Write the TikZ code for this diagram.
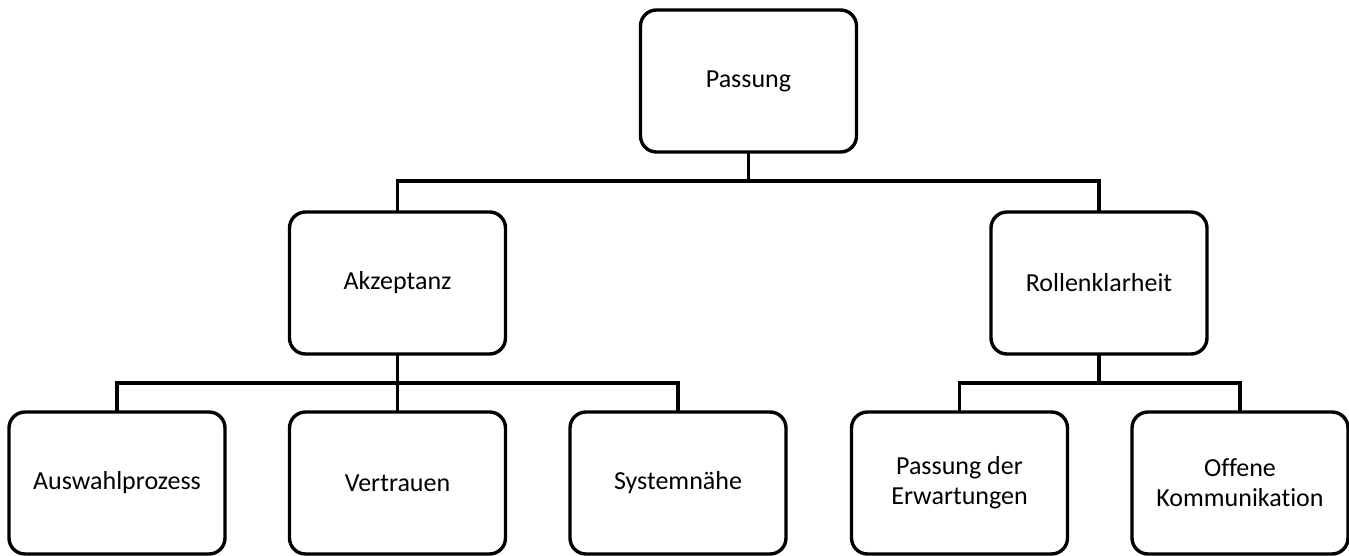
\documentclass[tikz,border=0pt]{standalone}
\usepackage{fontspec}
\setmainfont[Ligatures={NoCommon,NoRare}]{Carlito}
\begin{document}
\begin{tikzpicture}[x=1pt,y=-1pt,
  box/.style={draw=black, line width=3.4pt, rounded corners=16pt, fill=white,
    minimum width=216pt, minimum height=142pt, inner sep=0pt, outer sep=0pt,
    align=center, font=\fontsize{26}{30}\selectfont},
  link/.style={draw=black, line width=3.6pt}]
\useasboundingbox (0,0) rectangle (1349,556);
\node[box] (top) at (748.5,81) {Passung};
\node[box] (akz) at (397.5,283) {Akzeptanz};
\node[box] (rol) at (1099,283) {Rollenklarheit};
\node[box] (aus) at (117,483) {Auswahlprozess};
\node[box] (ver) at (397.5,483) {Vertrauen};
\node[box] (sys) at (678,483) {Systemnähe};
\node[box] (erw) at (959.5,483) {Passung der\\Erwartungen};
\node[box] (kom) at (1240,483) {Offene\\Kommunikation};
\draw[link] (top.south) -- ++(0,29) -| (akz.north);
\draw[link] (top.south) -- ++(0,29) -| (rol.north);
\draw[link] (akz.south) -- ++(0,29) -| (aus.north);
\draw[link] (akz.south) -- (ver.north);
\draw[link] (akz.south) -- ++(0,29) -| (sys.north);
\draw[link] (rol.south) -- ++(0,29) -| (erw.north);
\draw[link] (rol.south) -- ++(0,29) -| (kom.north);
\end{tikzpicture}
\end{document}
